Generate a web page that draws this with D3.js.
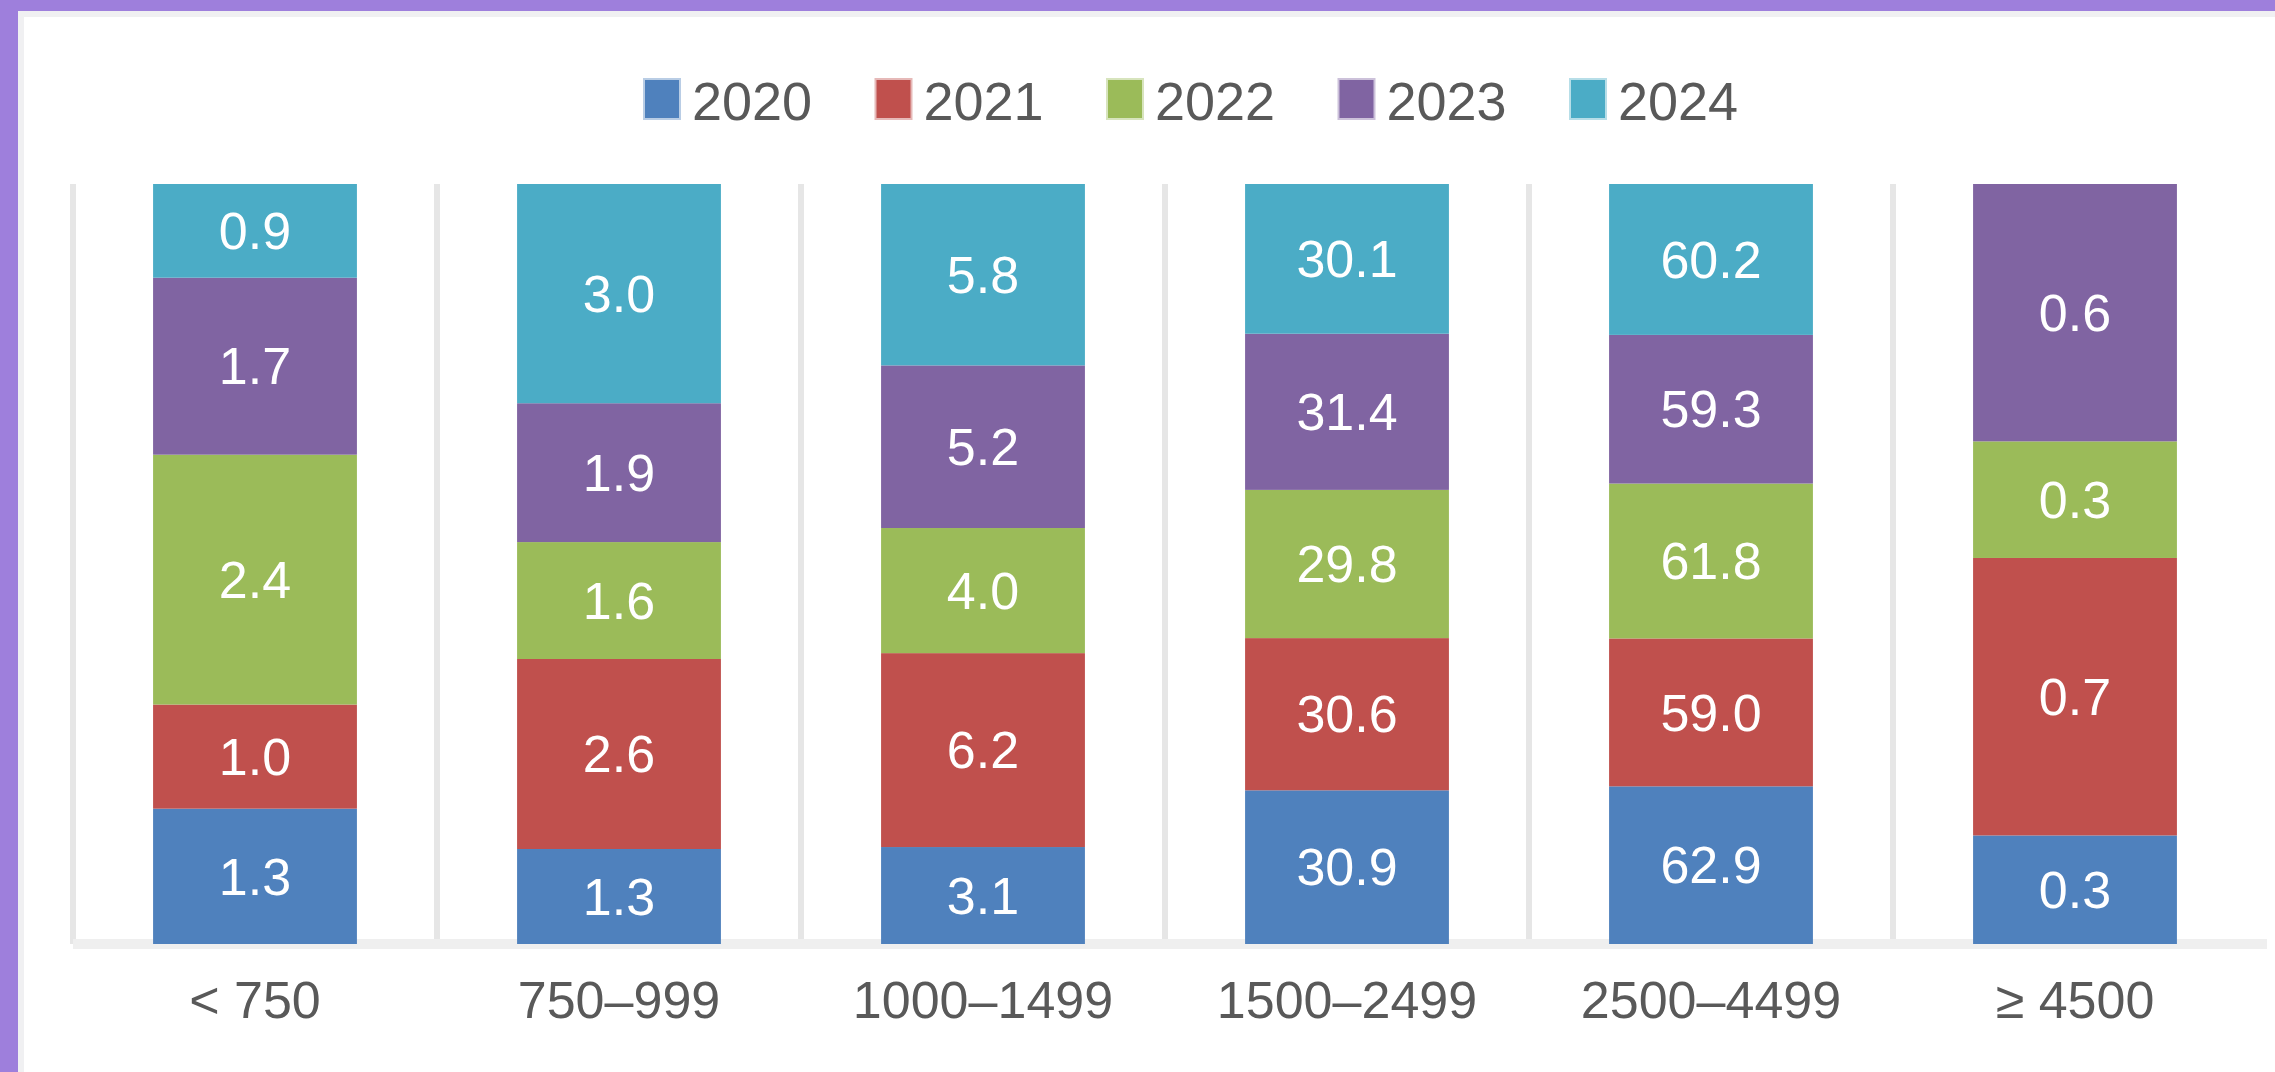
<!DOCTYPE html>
<html>
<head>
<meta charset="utf-8">
<script src="https://cdn.jsdelivr.net/npm/d3@7"></script>
<style>
  html, body { margin: 0; padding: 0; background: #ffffff; }
  svg { display: block; }
  text { font-family: "Liberation Sans", Arial, sans-serif; }
</style>
</head>
<body>
<div id="chart"></div>
<script>
// data (last column, labels round to 1 decimal)
var categories = ["< 750", "750–999", "1000–1499", "1500–2499", "2500–4499", "≥ 4500"];
var years = ["2020", "2021", "2022", "2023", "2024"];
var values2020 = [1.3, 1.3, 3.1, 30.9, 62.9, 0.27];
var values2021 = [1.0, 2.6, 6.2, 30.6, 59.0, 0.69];
var values2022 = [2.4, 1.6, 4.0, 29.8, 61.8, 0.29];
var values2023 = [1.7, 1.9, 5.2, 31.4, 59.3, 0.64];
var values2024 = [0.9, 3.0, 5.8, 30.1, 60.2, null];
var seriesColors = ["#4f81bd", "#c0504d", "#9bbb59", "#8064a2", "#4bacc6"];

// settings
var svgWidth = 2275;
var svgHeight = 1072;
var plot = { left: 73, right: 2257, top: 184, bottom: 944 };
var fontSize = 52;
var labelColor = "#595959";

var seriesValues = [values2020, values2021, values2022, values2023, values2024];

// one row per category, one key per year
var rows = categories.map(function (c, i) {
	var row = { category: c };
	years.forEach(function (y, j) { row[y] = seriesValues[j][i]; });
	return row;
});

var stack = d3.stack()
	.keys(years)
	.value(function (d, key) { return d[key] == null ? 0 : d[key]; })
	.offset(d3.stackOffsetExpand);
var layers = stack(rows);

var svg = d3.select("#chart")
	.append("svg")
	.attr("width", svgWidth)
	.attr("height", svgHeight);

svg.append("rect")
	.attr("width", svgWidth)
	.attr("height", svgHeight)
	.attr("fill", "#ffffff");

// frame: purple strip top and left, thin grey band inside
svg.append("rect").attr("x", 0).attr("y", 11).attr("width", svgWidth).attr("height", 6).attr("fill", "#f0f0f2");
svg.append("rect").attr("x", 18).attr("y", 11).attr("width", 6).attr("height", svgHeight).attr("fill", "#f0f0f2");
svg.append("rect").attr("x", 0).attr("y", 0).attr("width", svgWidth).attr("height", 11).attr("fill", "#9e7fdc");
svg.append("rect").attr("x", 0).attr("y", 0).attr("width", 18).attr("height", svgHeight).attr("fill", "#9e7fdc");

// scales
var xScale = d3.scaleBand()
	.domain(categories)
	.range([plot.left, plot.right])
	.paddingInner(0.44)
	.paddingOuter(0.22);
var yScale = d3.scaleLinear()
	.domain([0, 1])
	.range([plot.bottom, plot.top]);

var step = xScale.step();

// vertical grid lines at the category boundaries
svg.append("g")
	.selectAll("line")
	.data(categories)
	.enter()
	.append("line")
	.attr("x1", function (d) { return xScale(d) - step * 0.22; })
	.attr("x2", function (d) { return xScale(d) - step * 0.22; })
	.attr("y1", plot.top)
	.attr("y2", plot.bottom)
	.attr("stroke", "#e6e6e6")
	.attr("stroke-width", 6);

// category axis line
svg.append("line")
	.attr("x1", plot.left)
	.attr("x2", plot.right + 10)
	.attr("y1", plot.bottom)
	.attr("y2", plot.bottom)
	.attr("stroke", "#efefef")
	.attr("stroke-width", 10);

// stacked bars
var layerGroups = svg.append("g")
	.selectAll("g")
	.data(layers)
	.enter()
	.append("g")
	.attr("fill", function (d, i) { return seriesColors[i]; });

layerGroups.selectAll("rect")
	.data(function (d) { return d.filter(function (p) { return p.data[d.key] != null; }); })
	.enter()
	.append("rect")
	.attr("x", function (d) { return xScale(d.data.category); })
	.attr("y", function (d) { return yScale(d[1]); })
	.attr("width", xScale.bandwidth())
	.attr("height", function (d) { return yScale(d[0]) - yScale(d[1]); });

// value labels in the middle of each segment
layerGroups.each(function (layer) {
	d3.select(this).selectAll("text")
		.data(layer.filter(function (p) { return p.data[layer.key] != null; }))
		.enter()
		.append("text")
		.attr("x", function (d) { return xScale(d.data.category) + xScale.bandwidth() / 2; })
		.attr("y", function (d) { return (yScale(d[0]) + yScale(d[1])) / 2; })
		.attr("dy", "0.35em")
		.attr("text-anchor", "middle")
		.attr("font-size", fontSize)
		.attr("fill", "#ffffff")
		.text(function (d) { return d3.format(".1f")(d.data[layer.key]); });
});

// category labels
var xAxis = d3.axisBottom(xScale).tickSize(0).tickPadding(0);
svg.append("g")
	.attr("transform", "translate(0," + 1018 + ")")
	.call(xAxis)
	.call(function (g) { g.select(".domain").remove(); })
	.selectAll("text")
	.attr("dy", 0)
	.attr("font-size", fontSize)
	.attr("font-family", "'Liberation Sans', Arial, sans-serif")
	.attr("fill", labelColor);

// legend
var legendStart = 643;
var legendStep = 231.5;
var legend = svg.append("g")
	.selectAll("g")
	.data(years)
	.enter()
	.append("g")
	.attr("transform", function (d, i) { return "translate(" + (legendStart + i * legendStep) + ",0)"; });

legend.append("rect")
	.attr("x", 2)
	.attr("y", 80)
	.attr("width", 34)
	.attr("height", 38)
	.attr("fill", function (d, i) { return seriesColors[i]; })
	.attr("stroke", function (d, i) { return seriesColors[i]; })
	.attr("stroke-opacity", 0.4)
	.attr("stroke-width", 4);

legend.append("text")
	.attr("x", 49)
	.attr("y", 120)
	.attr("font-size", 54)
	.attr("fill", labelColor)
	.text(function (d) { return d; });
</script>
</body>
</html>
